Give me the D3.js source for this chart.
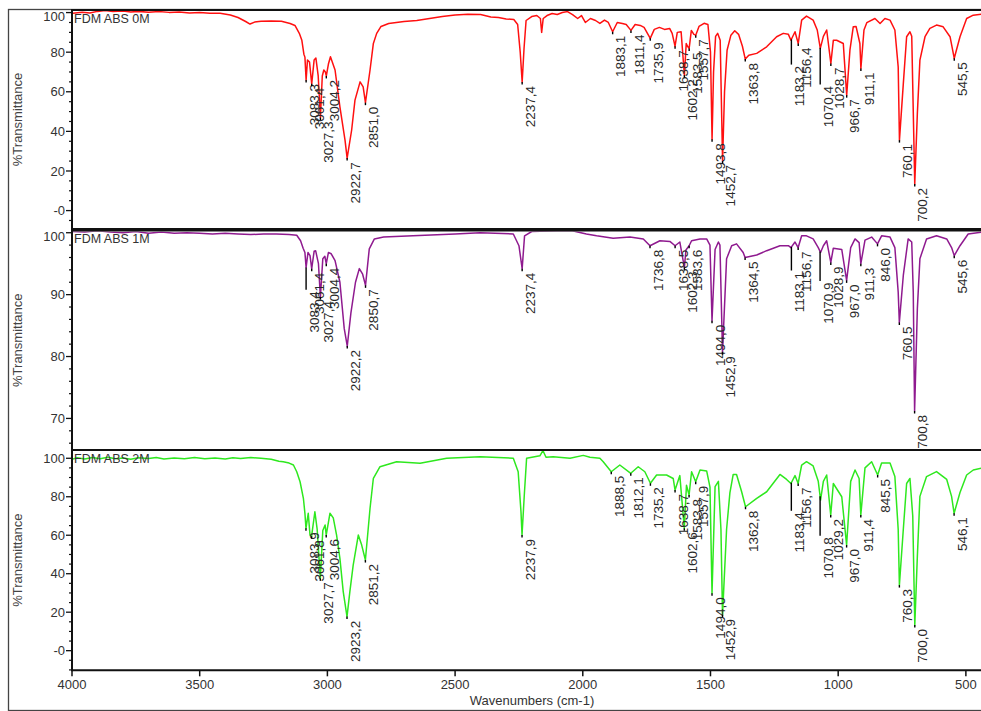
<!DOCTYPE html>
<html><head><meta charset="utf-8">
<script src="https://cdn.jsdelivr.net/npm/d3@7"></script>
<style>body{margin:0;background:#fff}svg{display:block}text{font-family:"Liberation Sans",Arial,sans-serif}</style>
</head><body><svg id="c" width="981" height="711"></svg>
<script>
// ---------------- DATA ----------------
const xTicks = [4000, 3500, 3000, 2500, 2000, 1500, 1000, 500];
const xTitle = "Wavenumbers (cm-1)";
const yTitle = "%Transmittance";
const panelNames = ["FDM ABS 0M", "FDM ABS 1M", "FDM ABS 2M"];
const yTicks0 = [0, 20, 40, 60, 80, 100];
const yTickLabels0 = ["-0", "20", "40", "60", "80", "100"];
const yTicks1 = [70, 80, 90, 100];
const yTickLabels1 = ["70", "80", "90", "100"];
const yTicks2 = [0, 20, 40, 60, 80, 100];
const yTickLabels2 = ["-0", "20", "40", "60", "80", "100"];

// [wavenumber, %T]
const spec0M = [[4000,99.6],[3960,100.2],[3930,99.8],[3900,100.6],[3870,101],[3840,100.5],[3800,100.8],[3770,100.3],[3740,100.6],[3700,100.2],[3660,100.5],[3620,100.1],[3580,100.3],[3540,99.8],[3500,100],[3460,99.7],[3420,99.6],[3380,98.8],[3350,97.5],[3320,95.5],[3303,94.2],[3285,95.2],[3260,95.6],[3220,95.7],[3180,95.6],[3146,94.5],[3127,93.5],[3110,89.5],[3100,86],[3092,79],[3088,77.5],[3083.3,66],[3078,76],[3070,75],[3061.4,64],[3052,76],[3045,77],[3036,68],[3027.3,47],[3020,68],[3014,71],[3008,70],[3004.2,68],[2996,74],[2988,77.7],[2970,71],[2951,52.4],[2931,35.6],[2922.7,26.5],[2905,40.7],[2892,55.8],[2872,65],[2860,62.5],[2851.0,54.5],[2833,71],[2820,84.4],[2807,89.5],[2790,93],[2760,94.5],[2700,95.5],[2650,96],[2600,97],[2550,98],[2500,98.8],[2450,99.2],[2400,99],[2360,97.8],[2330,97.5],[2300,96.8],[2270,96.5],[2255,94],[2245,80],[2237.4,65],[2230,82],[2222,96],[2200,98],[2180,98.5],[2166,97],[2161,90],[2155,97],[2140,98.5],[2120,99.5],[2100,99],[2080,100],[2060,100.5],[2040,99],[2020,97],[2005,98.5],[1990,95],[1970,97],[1950,96],[1933,94.5],[1915,96.2],[1900,95],[1883.1,90.3],[1865,95],[1845,94.5],[1830,94],[1811.4,91],[1795,94],[1775,93.5],[1760,92.5],[1735.9,87],[1720,91.5],[1700,92.5],[1680,91.5],[1660,92],[1650,89.5],[1638.7,83],[1630,90],[1615,90.3],[1602.2,68.4],[1595,84.4],[1590,83],[1583.5,81.9],[1575,91],[1565,89],[1557.7,88.6],[1545,93],[1525,94.6],[1510,94],[1500,80],[1493.8,36],[1488,70],[1480,88],[1472,89.5],[1462,86],[1452.7,25],[1445,60],[1435,81],[1420,88.6],[1405,90.8],[1390,89],[1375,83],[1363.8,76.5],[1350,78.5],[1319,79.4],[1280,82.7],[1241,87.8],[1215,89.5],[1195,89],[1185,86],[1169,90.3],[1156.4,84.4],[1143,96.2],[1124,98.2],[1098,96.2],[1082,91.2],[1070,81.9],[1058,88],[1045,91.2],[1028.7,74.3],[1019,86],[1006,86],[980,84.4],[966.7,58.3],[954,81],[941,92.8],[930,93],[915,84.4],[911.1,71.8],[899,91.2],[888,94.9],[856,97],[836,94.5],[817,97],[797,96.2],[778,91.2],[765,72.6],[760.1,35.6],[745,64],[732,87.8],[719,90.3],[712,88],[706,50],[700.2,13.4],[690,49],[680,76],[660,87.8],[641,92],[615,93.7],[589,92.8],[562,87.8],[545.5,76.9],[523,87.8],[497,97],[471,98.7],[440,99.2]];

const spec1M = [[4000,100.2],[3950,100.1],[3900,100.3],[3850,100.1],[3800,100],[3750,100.2],[3700,99.9],[3650,100.1],[3600,99.9],[3550,100],[3500,99.9],[3450,99.8],[3400,99.9],[3350,99.8],[3300,99.7],[3250,99.8],[3200,99.8],[3150,99.7],[3120,99.6],[3105,98.7],[3095,97.5],[3088,96.8],[3083.4,94.4],[3076,96.8],[3068,96.3],[3061.4,94.2],[3052,97],[3046,97.1],[3035,95],[3027.4,89.6],[3018,95.8],[3010,96.2],[3004.4,95],[2996,96.8],[2985,96.6],[2970,95.5],[2951,92],[2934,84.5],[2922.2,81.7],[2908,87],[2890,92],[2875,94.2],[2862,93.3],[2850.7,91.5],[2836,97.4],[2816,99],[2780,99.3],[2665,99.5],[2500,99.8],[2402,100],[2272,99.8],[2250,97.9],[2237.4,94.2],[2228,99.5],[2200,100.2],[2100,100.3],[2050,100.4],[1986,99.8],[1946,99.5],[1881,99.1],[1815,99.3],[1763,99],[1736.8,97.9],[1698,98.7],[1659,98.6],[1638.5,97.9],[1620,98.5],[1602.3,94.4],[1596,97.2],[1583.6,97.9],[1574,98.7],[1541,99],[1515,99],[1502,98],[1494.0,85.8],[1482,97.3],[1469,98.5],[1463,98],[1452.9,80.7],[1437,95.8],[1417,97.9],[1398,98.2],[1372,96.8],[1364.5,96],[1319,96.4],[1280,97.1],[1228,97.9],[1195,97.9],[1185,97.6],[1169,98.5],[1156.7,97.6],[1143,99.5],[1124,99.5],[1098,99],[1078,97.6],[1069,96.8],[1058,97.9],[1045,98.7],[1028.9,95.2],[1019,97.5],[986,97.3],[967.0,92.3],[951,97.6],[934,99],[918,98.4],[911.3,95],[895,98.8],[869,99.3],[846.0,98.2],[830,99.5],[797,99.3],[778,97.6],[765,90.4],[760.5,85.5],[745,93.1],[726,99],[712,98.5],[706,90.4],[700.8,71.2],[690,87.7],[680,95.8],[654,99],[615,99.5],[575,99],[556,97.6],[545.6,96.3],[523,97.9],[491,99.8],[440,100.1]];

const spec2M = [[4000,99.5],[3980,100.3],[3950,99.6],[3920,100.4],[3890,99.8],[3860,100.5],[3830,99.7],[3800,100.2],[3770,99.5],[3740,100.3],[3700,99.9],[3670,100.4],[3640,99.6],[3600,100.2],[3560,99.8],[3520,100.4],[3480,99.7],[3440,100.1],[3400,99.6],[3370,100.3],[3340,99.9],[3300,100.4],[3260,100],[3220,99.5],[3190,98.5],[3173,98.2],[3150,97.5],[3133,96.5],[3120,93],[3107,87.8],[3094,79.2],[3088,71.4],[3083.9,63.6],[3075,71.4],[3068,60],[3061.8,59.5],[3049,72.2],[3040,63],[3027.7,37.6],[3018,62.5],[3009,65.3],[3004.6,60.1],[2990,71.4],[2977,69],[2964,60.1],[2951,48],[2938,30.7],[2923.2,17.7],[2912,30.7],[2899,44.5],[2879,60.1],[2866,55],[2851.2,47.1],[2833,74],[2820,89.6],[2794,95.6],[2729,98.2],[2637,97.4],[2533,100],[2402,100.8],[2272,100],[2253,93],[2242,72.2],[2237.9,60.1],[2229,80.9],[2220,100],[2168,101.3],[2156,104],[2144,100.5],[2116,100.8],[2050,100],[1998,101.5],[1972,100.5],[1933,100],[1920,98.2],[1888.5,93],[1855,96.5],[1812.1,92.2],[1783,95.6],[1757,93],[1735.2,87],[1711,91.3],[1672,91.3],[1646,89.5],[1638.7,83.5],[1620,91],[1602.6,63.6],[1594,86],[1583.8,80.9],[1574,93],[1557.9,87.8],[1541,93.9],[1515,93.4],[1502,85],[1494.0,29.8],[1482,85.3],[1469,88],[1459,63],[1452.9,18.6],[1437,63],[1424,82],[1411,91.6],[1398,91.6],[1378,82.6],[1362.8,74.8],[1319,79.2],[1280,82.6],[1228,91.6],[1202,89],[1185,86.9],[1169,91],[1156.7,86.9],[1143,96.5],[1124,98.2],[1098,96],[1078,88],[1069,78.3],[1058,88],[1045,91.3],[1029.2,70.5],[1019,86.9],[986,80],[967.0,54.9],[951,88],[934,93.9],[918,89.5],[911.4,70.5],[895,95],[869,98.2],[845.5,91.3],[830,97.5],[797,97.5],[778,90.5],[765,63],[760.3,34.1],[745,63],[732,86.9],[719,89.5],[708,70],[700.0,13.4],[690,49],[680,80.2],[654,90.5],[615,93.1],[575,89],[556,80.2],[546.1,71.4],[523,82.2],[497,91.3],[471,93.9],[440,94.8]];

// peak labels: [text, %T where a leader line ends (optional)]
const labels0M = [["3083,3"],["3061,4"],["3027,3"],["3004,2"],["2922,7"],["2851,0"],["2237,4"],["1883,1"],["1811,4"],["1735,9"],["1638,7"],["1602,2"],["1583,5"],["1557,7"],["1493,8"],["1452,7"],["1363,8"],["1183,2",75],["1156,4"],["1070,4",65],["1028,7"],["966,7"],["911,1"],["760,1"],["700,2"],["545,5"]];
const labels1M = [["3083,4",91.2],["3061,4"],["3027,4"],["3004,4"],["2922,2"],["2850,7"],["2237,4"],["1736,8"],["1638,5"],["1602,3"],["1583,6"],["1494,0"],["1452,9"],["1364,5"],["1183,1",94.3],["1156,7"],["1070,9",92.6],["1028,9"],["967,0"],["911,3"],["846,0"],["760,5"],["700,8"],["545,6"]];
const labels2M = [["3083,9"],["3061,8"],["3027,7"],["3004,6"],["2923,2"],["2851,2"],["2237,9"],["1888,5"],["1812,1"],["1735,2"],["1638,7"],["1602,6"],["1583,8"],["1557,9"],["1494,0"],["1452,9"],["1362,8"],["1183,4",74],["1156,7"],["1070,8",61],["1029,2"],["967,0"],["911,4"],["845,5"],["760,3"],["700,0"],["546,1"]];

// ---------------- DRAW ----------------
const svg = d3.select("#c");
svg.append("rect").attr("width",981).attr("height",711).attr("fill","#fff");
const x = d3.scaleLinear().domain([4000, 440]).range([72, 981.2]);

const panels = [
  {top:10, bottom:229, dom:[-9.3,101.3], ticks:yTicks0, tl:yTickLabels0, minor:5, data:spec0M, labels:labels0M, color:"#ff1010", name:panelNames[0]},
  {top:230.5, bottom:450, dom:[64.9,100.36], ticks:yTicks1, tl:yTickLabels1, minor:2, data:spec1M, labels:labels1M, color:"#8f1a8f", name:panelNames[1]},
  {top:450, bottom:670.3, dom:[-10.2,104.3], ticks:yTicks2, tl:yTickLabels2, minor:5, data:spec2M, labels:labels2M, color:"#2ee81e", name:panelNames[2]}
];

// outer frame
svg.append("rect").attr("x",8.5).attr("y",9.5).attr("width",1000).attr("height",701)
  .attr("fill","none").attr("stroke","#444").attr("stroke-width",1.3);

function interp(data, w){
  for(let i=0;i<data.length-1;i++){
    const a=data[i], b=data[i+1];
    if(w<=a[0] && w>=b[0]){ const t=(a[0]-w)/(a[0]-b[0]); return a[1]+(b[1]-a[1])*t; }
  }
  return data[data.length-1][1];
}

panels.forEach((p,i)=>{
  const y = d3.scaleLinear().domain(p.dom).range([p.bottom, p.top]);
  const g = svg.append("g");
  const cid = "clip"+i;
  svg.append("clipPath").attr("id",cid).append("rect")
    .attr("x",73).attr("y",p.top+1).attr("width",920).attr("height",p.bottom-p.top-2);

  // spectrum
  g.append("path").datum(p.data).attr("clip-path",`url(#${cid})`)
    .attr("fill","none").attr("stroke",p.color).attr("stroke-width",1.5).attr("stroke-linejoin","round")
    .attr("d", d3.line().x(d=>x(d[0])).y(d=>y(d[1])));

  // frame lines
  g.append("line").attr("x1",72).attr("x2",990).attr("y1",p.top).attr("y2",p.top).attr("stroke","#111").attr("stroke-width",2);
  g.append("line").attr("x1",72).attr("x2",990).attr("y1",p.bottom).attr("y2",p.bottom).attr("stroke","#111").attr("stroke-width",2);

  // y axis
  const minorVals = d3.range(Math.ceil(p.dom[0]/p.minor)*p.minor, p.dom[1], p.minor).filter(v=>!p.ticks.includes(v));
  g.selectAll(".mn").data(minorVals).join("line")
    .attr("x1",69).attr("x2",72).attr("y1",d=>y(d)).attr("y2",d=>y(d)).attr("stroke","#111").attr("stroke-width",1.2);
  g.selectAll(".mj").data(p.ticks).join("line")
    .attr("x1",66).attr("x2",72).attr("y1",d=>y(d)).attr("y2",d=>y(d)).attr("stroke","#111").attr("stroke-width",1.3);
  g.selectAll(".tl").data(p.ticks).join("text")
    .attr("x",65).attr("y",d=>Math.max(y(d), p.top+6)).attr("dy","0.35em")
    .attr("text-anchor","end").attr("font-size",13).attr("fill","#333")
    .text((d,j)=>p.tl[j]);
  g.append("line").attr("x1",72).attr("x2",72).attr("y1",p.top-1).attr("y2",p.bottom+1).attr("stroke","#111").attr("stroke-width",2);

  // y title
  g.append("text").attr("transform",`translate(22,${(p.top+p.bottom)/2}) rotate(-90)`)
    .attr("text-anchor","middle").attr("font-size",13).attr("fill","#444").text(yTitle);

  // panel name
  g.append("text").attr("x",74).attr("y",p.top+12.5).attr("font-size",12.5).attr("fill","#333").text(p.name);

  // peak labels
  p.labels.forEach(l=>{
    const w = parseFloat(l[0].replace(",","."));
    const tc = interp(p.data, w);
    const ta = (l[1]!==undefined) ? l[1] : tc;
    const px = x(w), yc = y(tc), ya = y(ta) + 2.5;
    g.append("line").attr("x1",px).attr("x2",px).attr("y1",yc).attr("y2",ya)
      .attr("stroke","#000").attr("stroke-width",1.4);
    g.append("text").attr("transform",`translate(${px},${ya+1.5}) rotate(-90)`)
      .attr("text-anchor","end").attr("dy","0.94em").attr("font-size",13.5).attr("fill","#2a2a2a")
      .text(l[0]);
  });

  if(i===2){
    g.selectAll(".xt").data(xTicks).join("line")
      .attr("x1",d=>x(d)).attr("x2",d=>x(d)).attr("y1",p.bottom).attr("y2",p.bottom+6)
      .attr("stroke","#111").attr("stroke-width",1.5);
    g.selectAll(".xl").data(xTicks).join("text")
      .attr("x",d=>x(d)).attr("y",p.bottom+18.5).attr("text-anchor","middle")
      .attr("font-size",13).attr("fill","#333").text(d=>d);
    g.append("text").attr("x",532).attr("y",705).attr("text-anchor","middle")
      .attr("font-size",13).attr("fill","#333").text(xTitle);
  }
});
</script></body></html>
